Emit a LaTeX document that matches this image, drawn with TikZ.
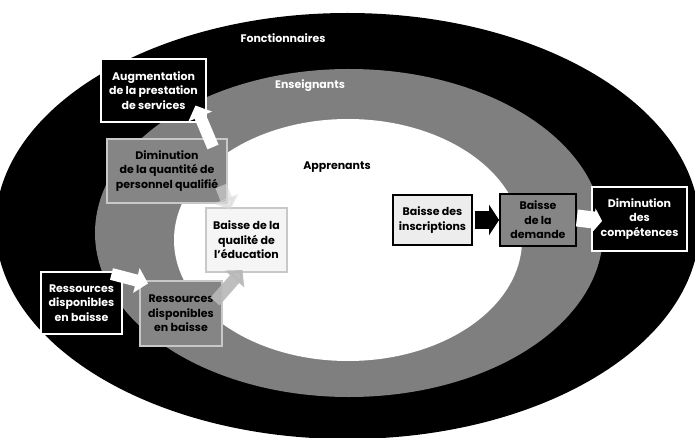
\documentclass[tikz,border=0pt]{standalone}
\usepackage{fontspec}
\setmainfont{Poppins}
\usetikzlibrary{arrows.meta}
\pgfdeclarelayer{bg}
\pgfsetlayers{bg,main}
\definecolor{ringgrey}{HTML}{7F7F7F}
\definecolor{boxgrey}{HTML}{858585}
\definecolor{lightedge}{HTML}{C8C8C8}
\definecolor{arrowgrey}{HTML}{B8B8B8}
\definecolor{paleArrow}{HTML}{DADADA}
\tikzset{
  lbl/.style={font=\bfseries\fontsize{11}{14.5}\selectfont, align=center, inner sep=0pt},
  darkbox/.style={lbl, draw=white, line width=1.8pt, fill=black, text=white},
  greybox/.style={lbl, draw=lightedge, line width=1.8pt, fill=boxgrey, text=black},
  lightbox/.style={lbl, draw=lightedge, line width=1.5pt, fill=white!96!black, text=black},
  edgebox/.style={lbl, draw=black, line width=1.8pt, text=black},
  ringlabel/.style={font=\bfseries\fontsize{11}{13}\selectfont, inner sep=0pt},
  blockarrow/.style={line width=12pt, -{Triangle[width=25pt,length=12pt]}},
  fatarrow/.style={line width=17pt, -{Triangle[width=30pt,length=10pt]}}
}
\begin{document}
\begin{tikzpicture}[x=1pt,y=-1pt]
\useasboundingbox (0,0) rectangle (695,438);
\begin{pgfonlayer}{bg}
\fill[white] (0,0) rectangle (695,438);
% rings
\fill[black] (347.5,226) ellipse [x radius=352, y radius=213];
\fill[ringgrey] (349,233) ellipse [x radius=254, y radius=164];
\fill[white] (348,240) ellipse [x radius=174, y radius=121];
\end{pgfonlayer}
% ring labels
\node[ringlabel, text=white] (fonc) at (283,38) {Fonctionnaires};
\node[ringlabel, text=white] (ens) at (310,86) {Enseignants};
\node[ringlabel, text=black] (app) at (337,167) {Apprenants};
% boxes
\node[darkbox, minimum width=105, minimum height=63] (aug) at (153.5,90.5) {Augmentation\\de la prestation\\de services};
\node[greybox, minimum width=120, minimum height=64] (dim) at (167,171) {Diminution\\de la quantité de\\personnel qualifié};
\node[lightbox, minimum width=81, minimum height=64] (qual) at (246.5,240) {Baisse de la\\qualité de\\l’éducation};
\node[darkbox, minimum width=81, minimum height=62] (res1) at (81.5,303) {Ressources\\disponibles\\en baisse};
\node[greybox, minimum width=82, minimum height=65] (res2) at (181,313.5) {Ressources\\disponibles\\en baisse};
\node[edgebox, fill=white!93!black, minimum width=79, minimum height=50] (insc) at (432.5,220) {Baisse des\\inscriptions};
\node[edgebox, fill=boxgrey, minimum width=76, minimum height=52] (dem) at (538,220) {Baisse\\de la\\demande};
\node[darkbox, minimum width=95, minimum height=64] (comp) at (639.5,219) {Diminution\\des\\compétences};
% block arrows
\draw[blockarrow, white] ([shift={(46,-24)}]dim.center) -- ([shift={(42,15)}]aug.center);
\draw[blockarrow, paleArrow, opacity=0.6] ([shift={(54,15)}]dim.center) -- ([shift={(-16,-30)}]qual.center);
\draw[blockarrow, white] ([shift={(30,-29)}]res1.center) -- ([shift={(-33,-30)}]res2.center);
\draw[blockarrow, arrowgrey, opacity=0.9] ([shift={(34,-12)}]res2.center) -- ([shift={(-4,30)}]qual.center);
\draw[fatarrow, black] ([xshift=2]insc.east) -- (dem.west);
\draw[line width=17pt, white, -{Triangle[width=23pt,length=8pt]}] ([yshift=2]dem.east) -- ([shift={(11,2)}]comp.west);
\end{tikzpicture}
\end{document}
